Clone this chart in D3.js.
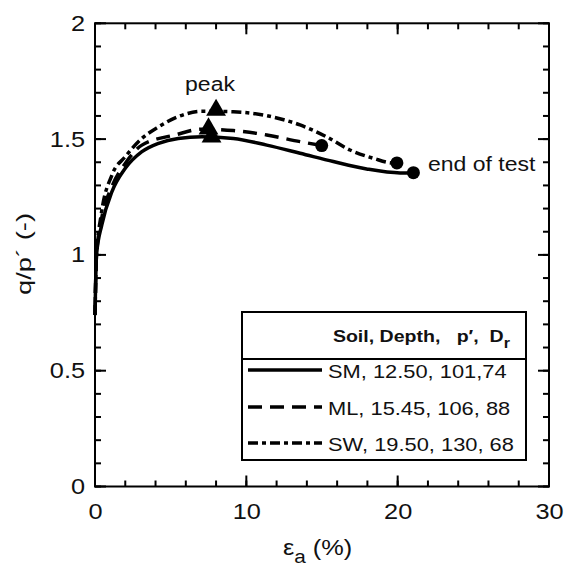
<!DOCTYPE html>
<html><head><meta charset="utf-8">
<script src="https://cdn.jsdelivr.net/npm/d3@7"></script>
<style>
html,body{margin:0;padding:0;background:#fff;}
svg{display:block;font-family:"Liberation Sans",Arial,Helvetica,sans-serif;}
</style></head>
<body>
<svg id="chart" width="565" height="567"></svg>
<script>
// ---- data ----
const xTicksMajor = [0, 10, 20, 30];
const yTicksMajor = [0, 0.5, 1, 1.5, 2];

const smStrain = [0, 0.1, 0.45, 1.12, 2.0, 3.1, 4.2, 5.5, 7.07, 9.14, 11.35, 13.55, 15.75, 17.95, 20.16, 21.04];
const smQ      = [0.74, 1.0, 1.13, 1.273, 1.374, 1.446, 1.482, 1.503, 1.51, 1.503, 1.474, 1.439, 1.403, 1.371, 1.354, 1.355];

const mlStrain = [0, 0.1, 0.42, 1.12, 2.0, 3.1, 5.3, 7.07, 9.14, 11.35, 13.55, 14.98];
const mlQ      = [0.74, 1.0, 1.15, 1.295, 1.395, 1.474, 1.518, 1.543, 1.537, 1.518, 1.489, 1.472];

const swStrain = [0, 0.1, 0.4, 1.12, 2.0, 3.1, 4.2, 5.5, 7.07, 9.14, 11.35, 13.55, 15.3, 16.85, 18.4, 19.7, 19.95];
const swQ      = [0.74, 1.0, 1.17, 1.345, 1.424, 1.503, 1.553, 1.597, 1.62, 1.618, 1.601, 1.561, 1.51, 1.453, 1.417, 1.397, 1.397];

const peakStrain = [7.7, 7.5, 8.0];
const peakQ      = [1.51, 1.545, 1.625];
const endStrain  = [21.04, 14.98, 19.95];
const endQ       = [1.355, 1.472, 1.397];

const legendLabels = ["SM, 12.50, 101,74", "ML, 15.45, 106, 88", "SW, 19.50, 130, 68"];

// ---- drawing ----
const svg = d3.select("#chart");
const x = d3.scaleLinear().domain([0, 30]).range([95, 549]);
const y = d3.scaleLinear().domain([0, 2]).range([486.5, 23.3]);
const STRETCH = 1.15;

const dashes = ["none", "14,8", "10,4,4,4"];
const series = [
  {strain: smStrain, q: smQ},
  {strain: mlStrain, q: mlQ},
  {strain: swStrain, q: swQ}
];

const line = d3.line().x(d => x(d[0])).y(d => y(d[1])).curve(d3.curveMonotoneX);
series.forEach((s, i) => {
  svg.append("path")
    .datum(s.strain.map((e, k) => [e, s.q[k]]))
    .attr("d", line)
    .attr("fill", "none").attr("stroke", "#000")
    .attr("stroke-width", 3.5)
    .attr("stroke-dasharray", dashes[i]);
});

// markers
const tri = d3.symbol().type(d3.symbolTriangle).size(170);
peakStrain.forEach((e, i) => {
  svg.append("path").attr("d", tri)
    .attr("transform", `translate(${x(e)},${y(peakQ[i])})`)
    .attr("fill", "#000");
});
endStrain.forEach((e, i) => {
  svg.append("circle").attr("cx", x(e)).attr("cy", y(endQ[i])).attr("r", 6.5).attr("fill", "#000");
});

// axis labels via d3 axes
function styleAxis(g) {
  g.select(".domain").remove();
  g.selectAll("line").remove();
  g.selectAll("text").attr("fill", "#111").style("font-size", "22px");
}
svg.append("g").attr("transform", `translate(0,${y(0)})`)
  .call(d3.axisBottom(x).tickValues(xTicksMajor).tickSize(0).tickPadding(17).tickFormat(d => String(d)))
  .call(styleAxis);
svg.append("g").attr("transform", `translate(${x(0)},0)`)
  .call(d3.axisLeft(y).tickValues(yTicksMajor).tickSize(0).tickPadding(10).tickFormat(d => String(d)))
  .call(styleAxis);

// annotations
svg.append("text").attr("x", 210).attr("y", 91).attr("text-anchor", "middle")
  .style("font-size", "20px").attr("fill", "#111").text("peak");
svg.append("text").attr("x", 428).attr("y", 171)
  .style("font-size", "20px").attr("fill", "#111").text("end of test");

// axis titles
const xl = svg.append("text").attr("x", 283).attr("y", 555).style("font-size", "22px").attr("fill", "#111");
xl.append("tspan").text("\u03B5");
xl.append("tspan").attr("dy", 8).style("font-size", "18px").text("a");
xl.append("tspan").attr("dy", -8).text(" (%)");

svg.append("text").attr("transform", "translate(31,254) rotate(-90)")
  .attr("text-anchor", "middle").style("font-size", "20px").attr("fill", "#111")
  .attr("textLength", 82).attr("lengthAdjust", "spacingAndGlyphs")
  .text("q/p\u00B4 (-)");

// legend
const lg = svg.append("g");
lg.append("rect").attr("x", 242).attr("y", 312).attr("width", 284).attr("height", 148)
  .attr("fill", "#fff").attr("stroke", "#000").attr("stroke-width", 2);
lg.append("line").attr("x1", 242).attr("x2", 526).attr("y1", 359).attr("y2", 359)
  .attr("stroke", "#000").attr("stroke-width", 2);
const hdr = lg.append("text").attr("x", 510).attr("y", 342).attr("text-anchor", "end")
  .style("font-size", "17px").style("font-weight", "bold").attr("fill", "#111");
hdr.append("tspan").text("Soil, Depth,\u00A0\u00A0 p\u2032,\u00A0 D");
hdr.append("tspan").attr("dy", 6).style("font-size", "14px").text("r");

const rowY = [370, 407, 443];
legendLabels.forEach((lab, i) => {
  lg.append("line").attr("x1", 248).attr("x2", 322).attr("y1", rowY[i]).attr("y2", rowY[i])
    .attr("stroke", "#000").attr("stroke-width", 3.5).attr("stroke-dasharray", dashes[i]);
  lg.append("text").attr("x", 328).attr("y", rowY[i] + 8)
    .style("font-size", "19px").attr("fill", "#111").text(lab);
});

// horizontal stretch of all texts (reference glyphs are wide)
svg.selectAll("text").each(function () {
  const el = this;
  if (el.hasAttribute("textLength")) return;
  const w = el.getComputedTextLength();
  el.setAttribute("textLength", (w * STRETCH).toFixed(1));
  el.setAttribute("lengthAdjust", "spacingAndGlyphs");
});

// frame
svg.append("rect").attr("x", x(0)).attr("y", y(2))
  .attr("width", x(30) - x(0)).attr("height", y(0) - y(2))
  .attr("fill", "none").attr("stroke", "#000").attr("stroke-width", 2);

// tick marks (inward, all four sides) drawn on top
const xMinor = d3.range(0, 30.01, 2);
const yMinor = d3.range(0, 20.01, 1).map(v => v / 10);
const tg = svg.append("g");
function tick(x1, y1, x2, y2) {
  tg.append("line").attr("x1", x1).attr("y1", y1).attr("x2", x2).attr("y2", y2)
    .style("stroke", "#000").style("stroke-width", "2px");
}
function xTicks(vals, len) {
  vals.forEach(v => {
    tick(x(v), y(0), x(v), y(0) - len);
    tick(x(v), y(2), x(v), y(2) + len);
  });
}
function yTicks(vals, len) {
  vals.forEach(v => {
    tick(x(0), y(v), x(0) + len, y(v));
    tick(x(30), y(v), x(30) - len, y(v));
  });
}
xTicks(xMinor, 6); xTicks(xTicksMajor, 11);
yTicks(yMinor, 6); yTicks(yTicksMajor, 11);
</script>
</body></html>
